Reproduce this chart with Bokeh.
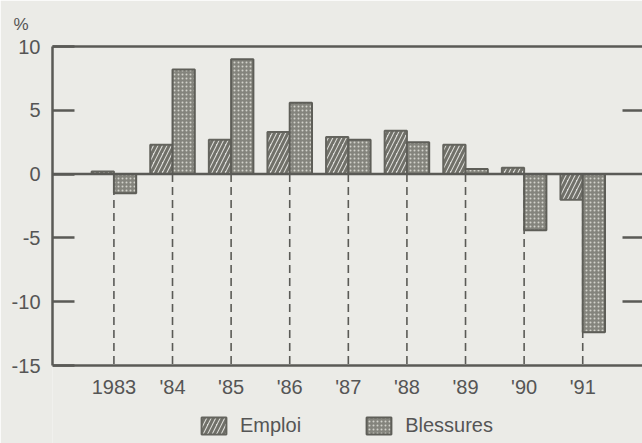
from bokeh.plotting import figure
from bokeh.models import (Range1d, FixedTicker, LinearAxis, Span, Legend, LegendItem,
                          ColumnDataSource)
from bokeh.transform import dodge
from bokeh.embed import file_html
from bokeh.resources import INLINE

# ---- data ----
years = ["1983", "'84", "'85", "'86", "'87", "'88", "'89", "'90", "'91"]
emploi = [0.2, 2.3, 2.7, 3.3, 2.9, 3.4, 2.3, 0.5, -2.0]
blessures = [-1.5, 8.2, 9.0, 5.6, 2.7, 2.5, 0.4, -4.4, -12.4]
y_ticks = [-15, -10, -5, 0, 5, 10]
right_ticks = [-10, -5, 5]
series_names = ["Emploi", "Blessures"]
unit = "%"

BG = "#ebebe7"
AX = "#5a5a56"
TXT = "#555555"
FONT = "Liberation Sans"

xs = list(range(len(years)))
source = ColumnDataSource(dict(x=xs, emploi=emploi, blessures=blessures))

p = figure(width=642, height=443, output_backend="svg", toolbar_location=None,
           x_range=Range1d(-1.048, 9.02), y_range=Range1d(-21.11, y_ticks[-1]),
           min_border_left=52, min_border_right=0, min_border_top=46, min_border_bottom=0,
           background_fill_color=BG, border_fill_color=BG, outline_line_color=None)
p.grid.visible = False

# unit label at the top left
p.title.text = unit
p.title.align = "left"
p.title.offset = -39
p.title.standoff = 25
p.title.text_font = FONT
p.title.text_font_size = "17px"
p.title.text_font_style = "normal"
p.title.text_color = TXT

# dashed guide lines from zero down to the bottom of the chart
p.segment(x0="x", y0=0, x1="x", y1=y_ticks[0], source=source,
          line_color=AX, line_width=1.6, line_dash="8 5")

r1 = p.vbar(x=dodge("x", -0.19, range=p.x_range), top="emploi", bottom=0, width=0.38,
            source=source, fill_color="#dededa", hatch_pattern="/", hatch_color="#707069",
            hatch_weight=3, hatch_scale=9, line_color="#64645e", line_width=2)
r2 = p.vbar(x=dodge("x", 0.19, range=p.x_range), top="blessures", bottom=0, width=0.38,
            source=source, fill_color="#84847d", hatch_pattern=".", hatch_color="#d2d2cb",
            hatch_scale=4, line_color="#5e5e58", line_width=2)

p.add_layout(Span(location=0, dimension="width", line_color=AX, line_width=2.5))

# left axis
ya = p.yaxis[0]
ya.ticker = FixedTicker(ticks=y_ticks)
ya.bounds = (y_ticks[0], y_ticks[-1])
ya.major_label_overrides = {t: str(t) for t in y_ticks}
ya.major_tick_in = 22
ya.major_tick_out = 0
ya.major_tick_line_width = 2.5
ya.major_tick_line_color = AX
ya.minor_tick_line_color = None
ya.axis_line_width = 2.5
ya.axis_line_color = AX
ya.major_label_standoff = 12
ya.major_label_text_font = FONT
ya.major_label_text_font_size = "20px"
ya.major_label_text_color = TXT

# bottom axis, fixed at the bottom of the value scale
xa = p.xaxis[0]
xa.fixed_location = y_ticks[0]
xa.ticker = FixedTicker(ticks=xs)
xa.major_label_overrides = {i: y for i, y in zip(xs, years)}
xa.major_tick_in = 0
xa.major_tick_out = 0
xa.minor_tick_line_color = None
xa.axis_line_width = 2.5
xa.axis_line_color = AX
xa.major_label_standoff = 10
xa.major_label_text_font = FONT
xa.major_label_text_font_size = "20px"
xa.major_label_text_color = TXT

# top border
top = LinearAxis(ticker=FixedTicker(ticks=[]), major_label_text_font_size="0px",
                 major_tick_in=0, major_tick_out=0, axis_line_width=2.5, axis_line_color=AX,
                 major_label_standoff=0)
p.add_layout(top, "above")

# right-side inward ticks (no labels)
right = LinearAxis(ticker=FixedTicker(ticks=right_ticks), bounds=(y_ticks[0], y_ticks[-1]),
                   major_label_overrides={t: "" for t in right_ticks},
                   major_label_text_font_size="1px",
                   major_tick_in=20, major_tick_out=0, major_tick_line_width=2.5,
                   major_tick_line_color=AX, axis_line_color=None, major_label_standoff=0,
                   minor_tick_line_color=None)
p.add_layout(right, "right")

legend = Legend(items=[LegendItem(label=series_names[0], renderers=[r1]),
                       LegendItem(label=series_names[1], renderers=[r2])],
                orientation="horizontal", location=(146, 6), glyph_width=31, glyph_height=21,
                label_standoff=11, spacing=62, padding=0, margin=0,
                border_line_color=None, background_fill_alpha=0,
                label_text_font=FONT, label_text_font_size="20px", label_text_color=TXT)
p.add_layout(legend)

open("out.html", "w").write(file_html(p, INLINE))
